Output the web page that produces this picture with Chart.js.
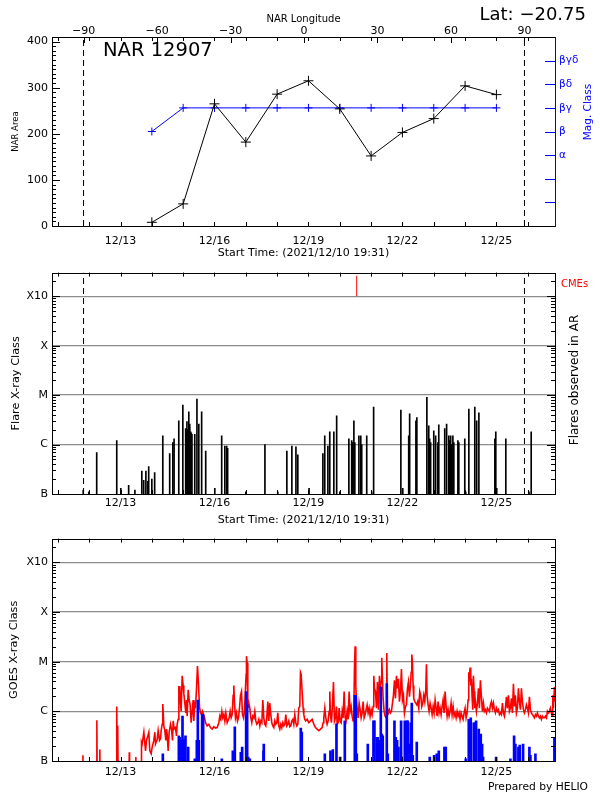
<!DOCTYPE html>
<html><head><meta charset="utf-8">
<script src="https://cdn.jsdelivr.net/npm/chart.js@4.4.1/dist/chart.umd.min.js"></script>
<style>
html,body{margin:0;padding:0;background:#fff;}
#wrap{position:relative;width:600px;height:800px;background:#fff;overflow:hidden;}
#wrap canvas{position:absolute;left:0;}
</style></head><body>
<div id="wrap">
<canvas id="c1" width="600" height="262" style="top:0px;width:600px;height:262px"></canvas>
<canvas id="c2" width="600" height="266" style="top:262px;width:600px;height:266px"></canvas>
<canvas id="c3" width="600" height="272" style="top:528px;width:600px;height:272px"></canvas>
</div>
<script>
// ---------------- data ----------------
const regionName = 'NAR 12907';
const latitude = -20.75;
const startTimeText = 'Start Time: (2021/12/10 19:31)';
const timeMin = 10.813, timeMax = 26.87;          // day of December 2021
const dateTickValues = [13, 16, 19, 22, 25];
const dateTickLabels = ['12/13', '12/16', '12/19', '12/22', '12/25'];
const lonMin = -102.9, lonMax = 102.5;
const lonTickValues = [-90, -60, -30, 0, 30, 60, 90];
const limbTimes = [11.82, 25.895];
const areaMax = 410;
const areaTickValues = [0, 100, 200, 300, 400];
const obsDays = [14, 15, 16, 17, 18, 19, 20, 21, 22, 23, 24, 25];
const narArea = [8, 48, 265, 182, 286, 315, 254, 152, 203, 233, 304, 285];
const magClassIndex = [4, 5, 5, 5, 5, 5, 5, 5, 5, 5, 5, 5];
const magTickValues = [3, 4, 5, 6, 7];
const magTickLabels = ['α', 'β', 'βγ', 'βδ', 'βγδ'];
const classMin = 0.1, classMax = 3000;            // flux in 1e-6 W/m^2
const classTickValues = [0.1, 1, 10, 100, 1000];
const classTickLabels = ['B', 'C', 'M', 'X', 'X10'];
const cmeTimes = [20.54];
const cmeMark = [1000, 2600];
// flares observed in AR: [day, peak flux]
const flares = [[11.81,0.12],[11.99,0.11],[12.24,0.69],[12.88,1.2],[13.01,0.13],[13.26,0.15],[13.46,0.12],[13.68,0.29],[13.74,0.19],[13.81,0.29],[13.87,0.18],[13.90,0.36],[14.00,0.20],[14.09,0.27],[14.35,1.5],[14.57,0.66],[14.67,1.1],[14.71,1.3],[14.86,3.0],[14.99,6.3],[15.08,2.1],[15.10,1.7],[15.12,2.9],[15.14,2.0],[15.15,1.9],[15.17,1.8],[15.18,4.6],[15.20,2.2],[15.21,2.6],[15.23,1.7],[15.24,1.8],[15.26,1.7],[15.28,1.6],[15.37,1.6],[15.44,8.3],[15.50,2.6],[15.59,4.6],[15.72,0.74],[16.01,0.13],[16.23,1.5],[16.33,0.93],[16.39,0.93],[16.42,0.84],[17.00,0.11],[17.61,1.0],[18.02,0.11],[18.31,0.74],[18.47,0.93],[18.60,0.90],[18.66,0.62],[19.02,0.13],[19.46,0.66],[19.52,1.5],[19.62,0.93],[19.68,1.8],[19.81,1.8],[19.90,3.8],[20.00,0.11],[20.29,1.3],[20.38,1.2],[20.41,1.1],[20.45,3.0],[20.48,1.1],[20.61,1.5],[20.67,1.5],[20.70,1.0],[20.86,1.5],[21.02,0.11],[21.08,5.7],[21.95,5.0],[22.01,0.13],[22.20,1.5],[22.23,4.2],[22.43,3.0],[22.46,3.5],[22.78,9.0],[22.84,2.4],[22.87,1.3],[22.90,1.1],[23.00,1.9],[23.03,0.11],[23.06,1.5],[23.13,1.1],[23.16,2.5],[23.35,2.1],[23.41,2.6],[23.48,1.5],[23.51,1.2],[23.54,1.5],[23.57,1.0],[23.61,1.5],[23.64,1.1],[23.77,1.2],[23.80,1.1],[23.99,1.3],[24.02,0.11],[24.12,5.2],[24.31,5.7],[24.37,3.0],[24.44,4.4],[24.95,1.3],[24.98,1.8],[25.01,0.13],[25.30,1.3],[26.04,0.11],[26.11,1.8]];
// GOES 1-8 A flux: [day, flux]
const goesLong = [[11.79,0.05],[11.80,0.13],[11.81,0.05],[12.235,0.05],[12.245,0.66],[12.255,0.05],[12.33,0.05],[12.34,0.17],[12.35,0.05],[12.87,0.05],[12.88,1.25],[12.895,0.07],[12.905,0.07],[12.915,0.51],[12.925,0.05],[13.27,0.05],[13.28,0.15],[13.29,0.05],[13.48,0.05],[13.49,0.12],[13.50,0.05],[13.66,0.05],
[13.670,0.24],[13.691,0.22],[13.745,0.38],[13.798,0.16],[13.830,0.26],[13.872,0.32],[13.904,0.38],[13.936,0.16],[13.979,0.14],[14.011,0.19],[14.064,0.26],[14.096,0.38],[14.117,0.22],[14.170,0.27],[14.202,0.41],[14.245,0.26],[14.277,0.28],[14.298,0.41],[14.330,0.55],[14.351,1.41],[14.383,0.51],[14.415,0.41],[14.447,0.26],[14.468,0.44],[14.489,0.35],[14.521,0.16],[14.553,0.38],[14.596,0.55],[14.628,0.44],[14.660,0.26],[14.681,0.64],[14.713,0.44],[14.755,0.47],[14.787,0.32],[14.809,0.55],[14.840,0.69],[14.862,3.1],[14.894,3.1],[14.915,1.46],[14.936,1.0],[14.968,5.2],[15.000,3.3],[15.021,2.3],[15.053,1.46],[15.085,0.93],[15.106,1.69],[15.128,0.80],[15.160,2.7],[15.191,1.69],[15.223,1.35],[15.255,0.59],[15.287,1.0],[15.319,1.69],[15.340,0.64],[15.372,1.57],[15.394,1.16],[15.426,2.9],[15.457,8.2],[15.489,3.6],[15.521,1.25],[15.553,0.93],[15.585,0.86],[15.617,1.0],[15.649,0.86],[15.681,0.74],[15.713,0.59],[15.766,0.51],[15.819,0.55],[15.872,0.47],[15.926,0.44],[15.979,0.49],[16.032,0.46],[16.085,0.47],[16.138,0.59],[16.170,0.80],[16.202,0.69],[16.234,1.0],[16.266,0.74],[16.298,0.86],[16.330,0.64],[16.362,0.93],[16.404,0.59],[16.436,0.66],[16.468,0.74],[16.500,1.0],[16.532,0.74],[16.564,0.86],[16.596,2.1],[16.617,3.3],[16.638,1.46],[16.670,0.74],[16.702,0.93],[16.734,0.64],[16.766,0.74],[16.798,1.16],[16.830,2.1],[16.862,2.5],[16.894,0.86],[16.926,0.74],[16.957,1.0],[16.989,2.9],[17.011,5.6],[17.021,12.9],[17.043,9.5],[17.064,1.16],[17.096,1.46],[17.128,1.16],[17.160,0.74],[17.191,0.59],[17.223,0.80],[17.255,0.74],[17.287,1.0],[17.319,0.64],[17.351,0.55],[17.383,0.59],[17.415,0.69],[17.447,0.51],[17.479,0.64],[17.511,0.59],[17.543,1.69],[17.574,0.74],[17.606,0.55],[17.638,0.51],[17.670,0.74],[17.702,1.57],[17.734,0.64],[17.766,1.46],[17.798,0.86],[17.830,0.59],[17.862,0.51],[17.894,0.47],[17.926,0.64],[17.957,0.55],[17.989,0.59],[18.021,0.93],[18.053,0.51],[18.085,0.44],[18.117,0.55],[18.149,0.47],[18.181,0.59],[18.213,0.51],[18.245,0.55],[18.277,0.86],[18.309,0.51],[18.340,0.55],[18.372,0.64],[18.404,0.49],[18.436,0.51],[18.468,0.64],[18.500,0.69],[18.532,0.55],[18.564,0.86],[18.596,0.59],[18.628,0.51],[18.660,0.55],[18.691,1.16],[18.723,1.25],[18.745,6.1],[18.766,5.6],[18.798,2.5],[18.830,1.16],[18.851,0.86],[18.883,0.69],[18.915,0.64],[18.958,0.69],[19.011,0.59],[19.064,0.64],[19.117,0.69],[19.170,0.55],[19.224,0.47],[19.277,0.44],[19.330,0.41],[19.383,0.44],[19.436,0.47],[19.468,0.59],[19.490,0.74],[19.522,1.16],[19.553,0.74],[19.596,0.55],[19.628,0.64],[19.660,1.0],[19.681,2.5],[19.702,0.86],[19.734,0.59],[19.766,1.35],[19.798,3.9],[19.830,0.64],[19.862,0.74],[19.894,1.25],[19.915,0.55],[19.947,0.59],[19.979,1.16],[20.011,0.64],[20.043,0.59],[20.075,1.0],[20.106,0.74],[20.138,2.5],[20.170,0.74],[20.202,0.64],[20.234,1.0],[20.266,0.69],[20.298,2.5],[20.330,1.0],[20.362,1.25],[20.394,0.80],[20.426,0.64],[20.447,0.93],[20.468,7.1],[20.489,20.3],[20.511,3.3],[20.532,1.57],[20.553,1.16],[20.585,0.74],[20.617,1.46],[20.649,1.08],[20.681,0.74],[20.713,0.93],[20.745,1.57],[20.777,0.74],[20.809,0.86],[20.841,1.08],[20.872,1.35],[20.904,0.93],[20.936,1.16],[20.968,0.80],[21.000,1.08],[21.032,0.86],[21.064,1.25],[21.085,5.2],[21.106,2.9],[21.138,2.5],[21.170,1.16],[21.202,3.9],[21.234,1.08],[21.266,5.2],[21.298,3.3],[21.319,3.9],[21.340,12.0],[21.362,4.5],[21.383,1.82],[21.415,1.0],[21.447,0.80],[21.479,0.74],[21.500,15.0],[21.521,1.16],[21.553,0.93],[21.585,1.08],[21.617,0.93],[21.649,1.0],[21.681,1.46],[21.713,2.1],[21.745,4.2],[21.777,1.82],[21.809,5.2],[21.840,2.9],[21.872,4.5],[21.904,1.57],[21.936,2.5],[21.968,7.1],[22.000,1.69],[22.032,2.1],[22.064,0.93],[22.096,1.25],[22.128,1.35],[22.160,2.9],[22.191,3.9],[22.223,1.97],[22.255,3.3],[22.277,6.1],[22.298,13.9],[22.319,9.5],[22.340,3.3],[22.362,1.82],[22.394,1.57],[22.426,1.46],[22.457,1.35],[22.489,1.57],[22.521,1.16],[22.553,2.5],[22.585,2.1],[22.617,1.25],[22.649,1.46],[22.681,2.1],[22.713,1.57],[22.745,2.7],[22.766,8.9],[22.787,2.1],[22.819,1.35],[22.851,1.0],[22.883,1.46],[22.915,1.16],[22.947,0.86],[22.979,1.25],[23.011,0.93],[23.043,1.69],[23.075,1.16],[23.106,0.80],[23.138,1.57],[23.170,0.93],[23.202,1.16],[23.234,0.86],[23.266,1.25],[23.298,1.69],[23.330,0.93],[23.362,2.5],[23.394,1.25],[23.426,0.80],[23.457,1.08],[23.489,0.80],[23.521,1.0],[23.553,1.46],[23.585,0.86],[23.617,1.25],[23.649,0.80],[23.681,0.93],[23.713,0.74],[23.745,1.0],[23.777,0.80],[23.809,0.93],[23.840,0.69],[23.872,0.93],[23.904,0.80],[23.936,0.69],[23.968,0.93],[24.000,1.16],[24.032,0.74],[24.064,0.93],[24.096,1.69],[24.117,6.1],[24.138,5.2],[24.160,7.6],[24.181,3.3],[24.202,4.5],[24.223,1.97],[24.245,1.08],[24.266,5.2],[24.287,2.5],[24.309,1.16],[24.330,1.57],[24.362,1.0],[24.394,1.46],[24.426,2.9],[24.457,1.16],[24.489,4.2],[24.521,1.97],[24.553,1.0],[24.585,1.46],[24.617,1.0],[24.649,1.08],[24.681,0.93],[24.713,1.16],[24.745,1.08],[24.777,1.0],[24.809,1.35],[24.840,1.57],[24.872,1.16],[24.904,1.46],[24.936,1.08],[24.968,0.93],[25.000,1.16],[25.032,1.0],[25.064,1.08],[25.096,0.86],[25.128,0.93],[25.160,0.86],[25.191,1.46],[25.223,0.93],[25.255,0.80],[25.287,1.16],[25.319,1.97],[25.351,1.16],[25.383,2.1],[25.415,1.0],[25.447,1.16],[25.479,1.82],[25.511,0.93],[25.543,3.6],[25.574,1.25],[25.606,2.1],[25.638,0.93],[25.670,1.16],[25.702,2.9],[25.734,1.57],[25.766,1.08],[25.798,2.9],[25.830,1.57],[25.862,1.08],[25.894,0.93],[25.926,1.08],[25.957,1.35],[25.989,1.16],[26.021,0.93],[26.053,1.97],[26.085,1.08],[26.117,0.93],[26.149,0.86],[26.181,0.80],[26.213,0.74],[26.245,0.86],[26.277,0.80],[26.309,0.93],[26.340,0.80],[26.372,0.74],[26.404,0.80],[26.436,0.69],[26.468,0.80],[26.500,0.74],[26.532,0.74],[26.564,0.80],[26.596,0.74],[26.628,1.0],[26.660,0.93],[26.691,1.0],[26.723,1.16],[26.745,1.0],[26.777,0.80],[26.798,2.1],[26.819,1.16],[26.851,3.1],[26.883,1.57]];
// GOES 0.5-4 A flux peaks above the B level: [day, flux]
const goesShort = [[14.351,0.14],[14.862,0.32],[14.894,0.30],[14.936,0.26],[14.979,0.80],[15.021,0.27],[15.074,0.32],[15.160,0.19],[15.372,0.11],[15.436,0.26],[15.468,1.69],[15.500,0.26],[15.606,0.86],[15.638,0.86],[16.234,0.11],[16.585,0.16],[16.649,0.49],[16.840,0.15],[16.883,0.19],[17.011,2.5],[17.043,1.35],[17.074,0.12],[17.128,0.11],[17.564,0.16],[17.574,0.22],[18.755,0.46],[18.787,0.38],[19.522,0.14],[19.702,0.16],[19.777,0.17],[19.894,0.56],[20.011,0.12],[20.160,0.64],[20.479,2.1],[20.511,2.1],[20.543,0.14],[20.894,0.22],[21.075,0.64],[21.106,0.64],[21.181,0.30],[21.213,0.30],[21.277,0.26],[21.309,3.1],[21.340,0.35],[21.372,0.32],[21.500,3.6],[21.532,0.14],[21.745,0.64],[21.787,0.30],[21.830,0.26],[21.872,0.19],[21.957,0.64],[21.979,0.12],[22.075,0.64],[22.139,0.64],[22.170,0.64],[22.234,0.22],[22.266,0.59],[22.298,1.46],[22.330,0.13],[22.457,0.24],[22.872,0.12],[23.011,0.13],[23.096,0.14],[23.160,0.16],[23.340,0.19],[23.383,0.19],[24.021,0.11],[24.117,0.69],[24.149,0.64],[24.181,0.74],[24.277,0.59],[24.309,0.59],[24.351,0.64],[24.436,0.44],[24.468,0.28],[24.500,0.35],[24.543,0.22],[24.575,0.12],[24.990,0.12],[25.447,0.11],[25.564,0.32],[25.606,0.22],[25.702,0.19],[25.745,0.21],[25.851,0.22],[26.053,0.19],[26.085,0.13],[26.245,0.14],[26.851,0.30]];

// ---------------- helpers ----------------
const FONT = "'DejaVu Sans', 'Liberation Sans', sans-serif";
const BLUE = '#0000ff', RED = '#ff0000';
const dayTicks = []; for (let d = 11; d <= 26; d++) dayTicks.push(d);
const areaMinor = []; for (let v = 0; v <= 410; v += 10) areaMinor.push(v);
const magAll = [1, 2, 3, 4, 5, 6, 7];
const logMinor = [];
classTickValues.forEach(dec => { for (let m = 2; m <= 9; m++) { const v = dec * m; if (v <= classMax) logMinor.push(v); } });
const lonLabel = v => (v < 0 ? '\u2212' + Math.abs(v) : String(v));
const latText = 'Lat: ' + (latitude < 0 ? '\u2212' + Math.abs(latitude).toFixed(2) : latitude.toFixed(2));

function idlFrame(cfg) {
  return {
    id: 'idlFrame',
    afterDraw(chart) {
      const ctx = chart.ctx, a = chart.chartArea;
      ctx.save();
      ctx.lineWidth = 1;
      cfg.ticks.forEach(t => {
        const sc = chart.scales[t.scale];
        ctx.strokeStyle = t.color || '#000';
        ctx.beginPath();
        t.values.forEach(v => {
          if (v < sc.min || v > sc.max) return;
          const p = Math.round(sc.getPixelForValue(v)) + 0.5;
          if (t.side === 'bottom') { ctx.moveTo(p, a.bottom); ctx.lineTo(p, a.bottom - t.len); }
          else if (t.side === 'top') { ctx.moveTo(p, a.top); ctx.lineTo(p, a.top + t.len); }
          else if (t.side === 'left') { ctx.moveTo(a.left, p); ctx.lineTo(a.left + t.len, p); }
          else { ctx.moveTo(a.right, p); ctx.lineTo(a.right - t.len, p); }
        });
        ctx.stroke();
      });
      const L = Math.round(a.left) + 0.5, R = Math.round(a.right) + 0.5, T = Math.round(a.top) + 0.5, B = Math.round(a.bottom) + 0.5;
      ctx.strokeStyle = '#000';
      ctx.beginPath(); ctx.moveTo(R, T); ctx.lineTo(L, T); ctx.lineTo(L, B); ctx.lineTo(R, B); ctx.stroke();
      ctx.strokeStyle = cfg.rightColor || '#000';
      ctx.beginPath(); ctx.moveTo(R, T - 0.5); ctx.lineTo(R, B + 0.5); ctx.stroke();
      (cfg.texts || []).forEach(t => {
        ctx.save();
        ctx.font = t.font; ctx.fillStyle = t.color || '#000';
        ctx.textAlign = t.align || 'left'; ctx.textBaseline = 'middle';
        ctx.translate(t.x, t.y);
        if (t.rot) ctx.rotate(t.rot);
        ctx.fillText(t.text, 0, 0);
        ctx.restore();
      });
      ctx.restore();
    }
  };
}
const baseOpts = {
  responsive: false, animation: false, devicePixelRatio: 1, events: [],
  plugins: { legend: { display: false }, tooltip: { enabled: false } }
};
function timeAxis(height, pad, titlePadBottom) {
  return {
    type: 'linear', position: 'bottom', min: timeMin, max: timeMax, offset: false,
    afterBuildTicks: s => { s.ticks = dateTickValues.map(v => ({ value: v })); },
    ticks: { autoSkip: false, maxRotation: 0, padding: pad, color: '#000', font: { family: FONT, size: 11 },
      callback: (v, i) => dateTickLabels[i] },
    grid: { display: false, drawTicks: false }, border: { display: false },
    title: { display: true, text: startTimeText, color: '#000', font: { family: FONT, size: 11 }, padding: { top: 0, bottom: titlePadBottom } },
    afterFit: s => { s.height = height; }
  };
}
function classAxis(title, titlePad) {
  return {
    type: 'logarithmic', position: 'left', min: classMin, max: classMax,
    afterBuildTicks: s => { s.ticks = classTickValues.map(v => ({ value: v })); },
    ticks: { autoSkip: false, padding: 4, color: '#000', font: { family: FONT, size: 11 },
      callback: v => classTickLabels[classTickValues.indexOf(v)] },
    grid: { drawTicks: false, lineWidth: 1.2, color: c => (c.tick && c.tick.value > classMin * 1.5 ? '#8c8c8c' : 'rgba(0,0,0,0)') },
    border: { display: false },
    title: { display: true, text: title, color: '#000', font: { family: FONT, size: 11.3 }, padding: { top: titlePad, bottom: 0 } },
    afterFit: s => { s.width = 52; }
  };
}
function limbSets(yLo, yHi, yAxis) {
  return limbTimes.map(t => ({ type: 'line', data: [{ x: t, y: yLo }, { x: t, y: yHi }], yAxisID: yAxis,
    borderColor: '#000', borderWidth: 1, borderDash: [6, 4], pointRadius: 0, order: 5 }));
}
const logTicks = [
  { scale: 'x', side: 'bottom', values: dayTicks, len: 4 },
  { scale: 'x', side: 'top', values: dayTicks, len: 4 },
  { scale: 'y', side: 'left', values: classTickValues, len: 8 },
  { scale: 'y', side: 'left', values: logMinor, len: 4 },
  { scale: 'y', side: 'right', values: classTickValues, len: 8 },
  { scale: 'y', side: 'right', values: logMinor, len: 4 }
];

// ---------------- panel 1: area + magnetic class ----------------
new Chart(document.getElementById('c1'), {
  type: 'line',
  data: { datasets: [
    { data: obsDays.map((d, i) => ({ x: d, y: narArea[i] })), yAxisID: 'y', borderColor: '#000', borderWidth: 1,
      pointStyle: 'cross', pointRadius: 5, pointBorderColor: '#000', pointBorderWidth: 1, order: 0 },
    { data: obsDays.map((d, i) => ({ x: d, y: magClassIndex[i] })), yAxisID: 'y2', borderColor: BLUE, borderWidth: 1,
      pointStyle: 'cross', pointRadius: 4, pointBorderColor: BLUE, pointBorderWidth: 1, order: 1 },
    ...limbSets(0, areaMax, 'y')
  ] },
  options: Object.assign({}, baseOpts, {
    layout: { padding: 0 },
    scales: {
      x: timeAxis(36, 8.5, 2),
      x2: {
        type: 'linear', position: 'top', min: lonMin, max: lonMax,
        afterBuildTicks: s => { s.ticks = lonTickValues.map(v => ({ value: v })); },
        ticks: { autoSkip: false, maxRotation: 0, padding: -1, color: '#000', font: { family: FONT, size: 11 }, callback: v => lonLabel(v) },
        grid: { display: false, drawTicks: false }, border: { display: false },
        title: { display: true, text: 'NAR Longitude', color: '#000', font: { family: FONT, size: 10 }, padding: { top: 13.5, bottom: 0 } },
        afterFit: s => { s.height = 37; }
      },
      y: {
        type: 'linear', position: 'left', min: 0, max: areaMax,
        afterBuildTicks: s => { s.ticks = areaTickValues.map(v => ({ value: v })); },
        ticks: { autoSkip: false, padding: 4, color: '#000', font: { family: FONT, size: 11 } },
        grid: { display: false, drawTicks: false }, border: { display: false },
        title: { display: true, text: 'NAR Area', color: '#000', font: { family: FONT, size: 8.5 }, padding: { top: 11, bottom: 0 } },
        afterFit: s => { s.width = 52; }
      },
      y2: {
        type: 'linear', position: 'right', min: 0, max: 8,
        afterBuildTicks: s => { s.ticks = magTickValues.map(v => ({ value: v })); },
        ticks: { autoSkip: false, padding: 4, color: BLUE, font: { family: FONT, size: 10.5 },
          callback: v => magTickLabels[magTickValues.indexOf(v)] },
        grid: { display: false, drawTicks: false }, border: { display: false },
        afterFit: s => { s.width = 45; }
      }
    }
  }),
  plugins: [idlFrame({
    rightColor: BLUE,
    ticks: [
      { scale: 'x', side: 'bottom', values: dayTicks, len: 4 },
      { scale: 'x', side: 'top', values: dayTicks, len: 4 },
      { scale: 'x2', side: 'top', values: lonTickValues, len: 6 },
      { scale: 'y', side: 'left', values: areaMinor, len: 4 },
      { scale: 'y', side: 'left', values: areaTickValues, len: 8 },
      { scale: 'y2', side: 'right', values: magAll, len: 10, color: BLUE }
    ],
    texts: [
      { text: regionName, x: 103, y: 51, font: '19.5px ' + FONT },
      { text: latText, x: 586, y: 15, font: '18px ' + FONT, align: 'right' },
      { text: 'Mag. Class', x: 588, y: 112, font: '10.5px ' + FONT, color: BLUE, align: 'center', rot: -Math.PI / 2 }
    ]
  })]
});

// ---------------- panel 2: flares ----------------
new Chart(document.getElementById('c2'), {
  type: 'line',
  data: { datasets: [
    { type: 'bar', data: flares.map(f => ({ x: f[0], y: f[1] })), backgroundColor: '#000', borderWidth: 0, barThickness: 1, order: 1 },
    ...cmeTimes.map(t => ({ type: 'line', data: [{ x: t, y: cmeMark[0] }, { x: t, y: cmeMark[1] }], borderColor: RED, borderWidth: 1, pointRadius: 0, order: 0 })),
    ...limbSets(classMin, classMax, 'y')
  ] },
  options: Object.assign({}, baseOpts, {
    layout: { padding: { top: 5, right: 45, left: 0, bottom: 0 } },
    scales: { x: timeAxis(34, 3, 1.4), y: classAxis('Flare X-ray Class', 9) }
  }),
  plugins: [idlFrame({
    ticks: logTicks,
    texts: [
      { text: 'CMEs', x: 561, y: 22, font: '10px ' + FONT, color: RED },
      { text: 'Flares observed in AR', x: 575, y: 118, font: '12px ' + FONT, align: 'center', rot: -Math.PI / 2 }
    ]
  })]
});

// ---------------- panel 3: GOES ----------------
new Chart(document.getElementById('c3'), {
  type: 'line',
  data: { datasets: [
    { type: 'bar', data: goesShort.map(p => ({ x: p[0], y: p[1] })), backgroundColor: BLUE, borderWidth: 0, barThickness: 2, order: 0 },
    { type: 'line', data: goesLong.map(p => ({ x: p[0], y: p[1] })), borderColor: RED, borderWidth: 1.6, pointRadius: 0, tension: 0, order: 1 }
  ] },
  options: Object.assign({}, baseOpts, {
    layout: { padding: { top: 5, right: 45, left: 0, bottom: 0 } },
    scales: {
      x: Object.assign(timeAxis(39, 4.4, 0), { title: { display: false } }),
      y: classAxis('GOES X-ray Class', 7)
    }
  }),
  plugins: [idlFrame({
    ticks: logTicks,
    texts: [ { text: 'Prepared by HELIO', x: 588, y: 259, font: '10.7px ' + FONT, align: 'right' } ]
  })]
});
</script>
</body></html>
